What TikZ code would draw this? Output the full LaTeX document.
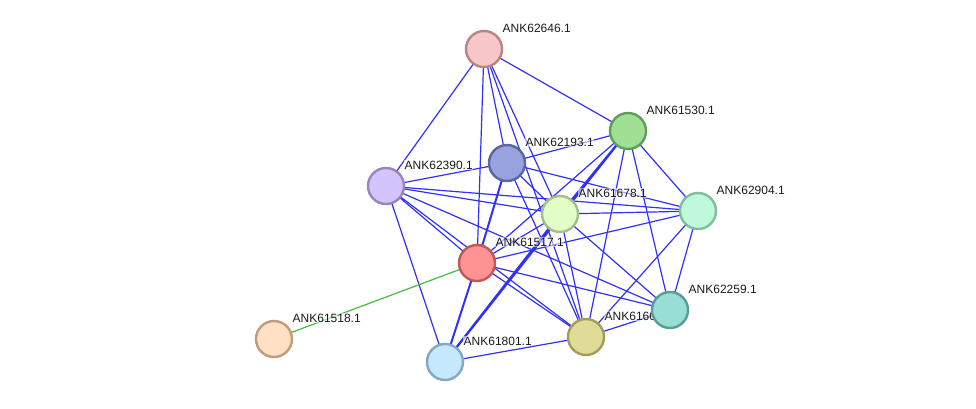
\documentclass[tikz,border=0pt]{standalone}
\usepackage{fontspec}
\setmainfont{Liberation Sans}
\usepackage{tikz}
\usetikzlibrary{positioning,calc,backgrounds}
\definecolor{linkblue} {HTML}{3030F8}
\definecolor{linkgreen}{HTML}{40C040}
\definecolor{labelink} {HTML}{1A1A1A}
% node fills and rims
\definecolor{pinkfill} {HTML}{F8C8C8} \definecolor{pinkrim} {HTML}{B88484}
\definecolor{grnfill}  {HTML}{A0E094} \definecolor{grnrim}  {HTML}{5E9E5A}
\definecolor{bluefill} {HTML}{98A2DE} \definecolor{bluerim} {HTML}{5A66A0}
\definecolor{lavfill}  {HTML}{D4C4FC} \definecolor{lavrim}  {HTML}{9884C0}
\definecolor{limefill} {HTML}{E2FDC6} \definecolor{limerim} {HTML}{A4BE8C}
\definecolor{mintfill} {HTML}{C0F8DC} \definecolor{mintrim} {HTML}{7EBE9C}
\definecolor{redfill}  {HTML}{FF9292} \definecolor{redrim}  {HTML}{C05858}
\definecolor{tealfill} {HTML}{98DED6} \definecolor{tealrim} {HTML}{5A9C96}
\definecolor{olivefill}{HTML}{E0DC98} \definecolor{oliverim}{HTML}{A09E58}
\definecolor{skyfill}  {HTML}{C4E8FC} \definecolor{skyrim}  {HTML}{84A8C0}
\definecolor{peachfill}{HTML}{FFE0C4} \definecolor{peachrim}{HTML}{BE9C7C}
\tikzset{
  % --- nodes
  prot/.style  = {circle, minimum size=36pt, inner sep=0pt, line width=2.4pt},
  lbl/.style   = {font=\fontsize{12}{14}\selectfont, text=labelink, anchor=west,
                  inner sep=0.5pt, fill=white, fill opacity=0.55, text opacity=1},
  % --- edges
  e/.style     = {draw=linkblue, line width=1.2pt},
  ethick/.style= {draw=linkblue, line width=2pt},
  eg/.style    = {draw=linkgreen, line width=1.2pt},
}
\newcommand{\protnode}[5]{%
  \node[prot, fill=#4fill, draw=#4rim] (#1) at (#2,#3) {};
  \node[lbl] (#1-l) at ([xshift=18pt,yshift=21pt]#1.center) {#5};}

\begin{document}
\begin{tikzpicture}[x=1pt,y=-1pt]
  \useasboundingbox (0,0) rectangle (976,408);
  % proteins, drawn in this order so that the rims overlap as in the network
  \protnode{p62646}{484}{49}{pink}{ANK62646.1}
  \protnode{p61530}{628}{131}{grn}{ANK61530.1}
  \protnode{p62390}{386}{186}{lav}{ANK62390.1}
  \protnode{p62193}{507}{163}{blue}{ANK62193.1}
  \protnode{p62904}{698}{211}{mint}{ANK62904.1}
  \protnode{p61678}{560}{214}{lime}{ANK61678.1}
  \protnode{p61517}{477}{263}{red}{ANK61517.1}
  \protnode{p61518}{274}{339}{peach}{ANK61518.1}
  \protnode{p61603}{586}{337}{olive}{ANK61603.1}
  \protnode{p62259}{670}{310}{teal}{ANK62259.1}
  \protnode{p61801}{445}{362}{sky}{ANK61801.1}

  \begin{scope}[on background layer]
    % --- links
    \foreach \a/\b in {p62646/p61530, p62646/p62390, p62646/p61517, p62646/p62193,
                       p62646/p61678, p62646/p61603,
                       p61530/p62193, p61530/p61517, p61530/p62904,
                       p61530/p62259, p61530/p61603,
                       p62193/p62390, p62193/p61678, p62193/p62904, p62193/p61603,
                       p62390/p61678, p62390/p62904, p62390/p61517, p62390/p61801,
                       p62390/p62259, p62390/p61603,
                       p61678/p62904, p61678/p61517, p61678/p61603, p61678/p62259,
                       p61517/p62904, p61517/p62259, p61517/p61603,
                       p62904/p62259, p62904/p61603,
                       p62259/p61603, p61603/p61801}
      \draw[e] (\a.center) -- (\b.center);
    \foreach \a/\b in {p61530/p61678, p61530/p61801, p62193/p61517,
                       p61678/p61801, p61517/p61801}
      \draw[ethick] (\a.center) -- (\b.center);
    \draw[eg] (p61517.center) -- (p61518.center);
  \end{scope}
\end{tikzpicture}
\end{document}
